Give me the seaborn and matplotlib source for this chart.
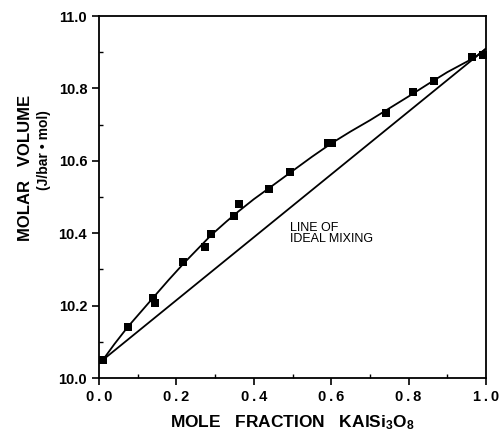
import matplotlib
matplotlib.use("Agg")
import matplotlib.pyplot as plt
from matplotlib.ticker import MultipleLocator
import seaborn as sns

# measured points (mole fraction KAlSi3O8, molar volume)
x_meas = [0.01, 0.075, 0.14, 0.145, 0.216, 0.274, 0.29, 0.35, 0.362,
          0.44, 0.493, 0.592, 0.602, 0.742, 0.811, 0.866, 0.964, 0.992]
v_meas = [10.05, 10.14, 10.22, 10.207, 10.32, 10.362, 10.398, 10.447, 10.48,
          10.522, 10.569, 10.65, 10.648, 10.732, 10.79, 10.82, 10.887, 10.892]

# fitted curve
x_fit = [0.01, 0.04, 0.075, 0.11, 0.14, 0.18, 0.22, 0.26, 0.29, 0.33, 0.36, 0.40,
         0.44, 0.5, 0.55, 0.6, 0.65, 0.7, 0.75, 0.8, 0.85, 0.9, 0.94, 0.97, 1.0]
v_fit = [10.05, 10.094, 10.142, 10.185, 10.222, 10.271, 10.318, 10.362, 10.395,
         10.433, 10.46, 10.494, 10.525, 10.572, 10.611, 10.648, 10.681, 10.712,
         10.745, 10.778, 10.812, 10.845, 10.868, 10.885, 10.91]

# line of ideal mixing
x_ideal = [0.01, 1.0]
v_ideal = [10.05, 10.91]

x_ticks = [0.0, 0.2, 0.4, 0.6, 0.8, 1.0]
x_ticklabels = ["0\u2009.\u20090", "0\u2009.\u20092", "0\u2009.\u20094",
                "0\u2009.\u20096", "0\u2009.\u20098", "1\u2009.\u20090"]
y_ticks = [10.0, 10.2, 10.4, 10.6, 10.8, 11.0]
y_ticklabels = ["10.0", "10.2", "10.4", "10.6", "10.8", "11.0"]

sns.set_style("ticks")
plt.rcParams["font.family"] = ["Liberation Sans", "DejaVu Sans"]
plt.rcParams["mathtext.default"] = "regular"
for key in ["text.color", "axes.labelcolor", "xtick.color", "ytick.color", "axes.edgecolor"]:
    plt.rcParams[key] = "black"

fig = plt.figure(figsize=(5, 4.34), dpi=100)
ax = fig.add_axes([0.198, 0.129, 0.774, 0.834])

sns.lineplot(x=x_fit, y=v_fit, color="black", lw=1.3, ax=ax)
sns.lineplot(x=x_ideal, y=v_ideal, color="black", lw=1.3, ax=ax)
sns.scatterplot(x=x_meas, y=v_meas, marker="s", s=28, color="black",
                edgecolor="black", linewidth=0, ax=ax, zorder=3)

ax.set_xlim(0, 1.0)
ax.set_ylim(10.0, 11.0)
ax.set_xticks(x_ticks)
ax.set_xticklabels(x_ticklabels, fontweight="bold", fontsize=10.5)
ax.set_yticks(y_ticks)
ax.set_yticklabels(y_ticklabels, fontweight="bold", fontsize=10.5)
ax.xaxis.set_minor_locator(MultipleLocator(0.1))
ax.yaxis.set_minor_locator(MultipleLocator(0.1))
ax.tick_params(which="major", direction="out", length=5, width=1.2)
ax.tick_params(which="minor", direction="in", length=3, width=1)
for sp in ax.spines.values():
    sp.set_linewidth(1.3)

ax.text(0.494, 10.432, "LINE OF\nIDEAL MIXING", fontsize=9, va="top",
        ha="left", linespacing=0.95)

ax.set_xlabel("MOLE   FRACTION   KAlSi$_3$O$_8$", fontweight="bold",
              fontsize=12.5, labelpad=7)
fig.text(0.052, 0.613, "MOLAR   VOLUME", rotation=90, fontweight="bold",
         fontsize=12, ha="center", va="center")
fig.text(0.088, 0.655, "(J/bar \u2022 mol)", rotation=90, fontweight="bold",
         fontsize=10, ha="center", va="center")

fig.savefig("out.png", dpi=100)
